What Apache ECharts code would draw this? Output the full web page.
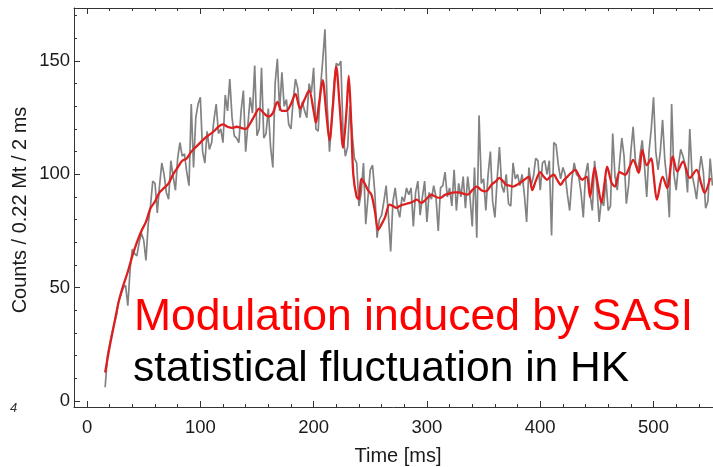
<!DOCTYPE html>
<html>
<head>
<meta charset="utf-8">
<script src="https://cdn.jsdelivr.net/npm/echarts@6/dist/echarts.min.js"></script>
<style>
  html, body { margin: 0; padding: 0; background: #fff; }
  #chart { width: 713px; height: 467px; }
</style>
</head>
<body>
<div id="chart"></div>
<script>
// ---- data ----
const xTickLabels = [0, 100, 200, 300, 400, 500];
const xMinorTicks = [20, 40, 60, 80, 120, 140, 160, 180, 220, 240, 260, 280, 320, 340, 360, 380, 420, 440, 460, 480, 520, 540];
const yTickLabels = [0, 50, 100, 150];
const yMinorTicks = [10, 20, 30, 40, 60, 70, 80, 90, 110, 120, 130, 140, 160, 170];

// observed counts per 2 ms bin, first bin at 16 ms
const grayStart = 16;
const grayBin = 2;
const grayCounts = [
  6, 20, 25, 30, 34, 38, 44, 47, 50, 51,
  42, 58, 67, 65, 64, 70, 74, 71, 62, 78,
  86, 97, 96, 83, 95, 105, 100, 92, 89, 106,
  99, 93, 107, 114, 108, 109, 101, 95, 131, 103,
  125, 131, 134, 110, 105, 119, 111, 114, 124, 131,
  118, 120, 114, 135, 128, 142, 125, 117, 116, 114,
  128, 137, 110, 122, 134, 127, 148, 117, 120, 147,
  116, 118, 129, 112, 103, 140, 151, 128, 145, 130,
  133, 122, 120, 133, 142, 138, 125, 132, 128, 125,
  140, 136, 147, 120, 119, 138, 150, 164, 130, 110,
  124, 140, 149, 148, 150, 118, 108, 112, 130, 118,
  107, 105, 86, 92, 105, 78, 90, 102, 104, 92,
  72, 80, 82, 88, 95, 82, 66, 88, 94, 85,
  81, 90, 88, 94, 91, 94, 77, 92, 97, 82,
  90, 97, 79, 92, 89, 95, 90, 75, 94, 95,
  101, 90, 94, 86, 102, 84, 96, 90, 99, 85,
  99, 90, 77, 103, 72, 126, 96, 98, 84, 100,
  110, 88, 81, 98, 112, 95, 92, 100, 87, 86,
  105, 98, 100, 95, 100, 91, 79, 103, 95, 99,
  107, 106, 93, 105, 106, 100, 106, 73, 114, 113,
  104, 98, 103, 100, 91, 84, 98, 105, 100, 99,
  92, 81, 100, 105, 91, 84, 106, 95, 79, 89,
  86, 98, 84, 86, 118, 99, 93, 105, 116, 108,
  87, 95, 110, 121, 106, 101, 108, 115, 104, 90,
  110, 120, 134, 110, 102, 110, 124, 106, 97, 81,
  131, 100, 93, 104, 111, 108, 104, 92, 120, 100,
  95, 89, 100, 108, 101, 85, 88, 107, 95
];

// SASI-modulated model curve
const redTimes = [16, 20, 24, 28, 32, 36, 40, 44, 48, 52, 56, 60, 64, 68, 72, 76, 80, 84, 88, 92,
  96, 100, 104, 108, 112, 116, 120, 124, 128, 132, 136, 140, 144, 148, 152, 156, 160, 164, 168, 172,
  176, 180, 184, 188, 192, 196, 200, 202, 205, 208, 211, 214, 217, 220, 223, 226, 229, 231, 233, 235,
  238, 240, 242, 245, 248, 251, 254, 257, 260, 263, 267, 270, 273, 276, 279, 282, 285, 288, 291, 295,
  299, 304, 308, 312, 316, 320, 324, 328, 332, 336, 340, 344, 348, 352, 357, 361, 364, 367, 370, 373,
  376, 380, 384, 387, 390, 393, 396, 400, 403, 406, 409, 412, 415, 418, 421, 424, 427, 431, 434, 437,
  441, 444, 448, 451, 454, 457, 459, 463, 466, 470, 475, 479, 482, 487, 490, 494, 498, 500, 503, 508,
  512, 517, 521, 526, 532, 538, 542, 545, 550];
const redCounts = [12.5, 24, 34, 44, 51, 57, 64, 70, 75, 79, 85, 88, 92, 94, 96, 100, 103, 106, 107, 110,
  112, 114, 116, 117.5, 119, 121, 122, 121, 120.5, 121, 120.5, 120, 122.5, 126, 129, 127, 125.5, 127, 132, 128,
  128, 131, 135.5, 129, 133, 137, 128, 122.7, 132, 141.6, 128, 115, 130, 147.5, 130, 111.7, 128, 143.4, 125, 100,
  90, 89, 98, 96, 93, 91, 84, 75.5, 78, 81, 86.6, 86, 85.2, 86, 86.6, 87, 87.4, 88, 88.8, 87.4,
  88.8, 91, 90, 89.6, 91, 91.5, 92, 92, 91.5, 91, 93, 94.6, 93, 92.5, 95.4, 97, 98.4, 97, 95.4, 95,
  94.6, 95.5, 96.8, 98, 99, 93, 97, 101, 99, 97.6, 99, 99.8, 97.5, 95.4, 97.5, 99, 100.5, 102, 99.5, 97.6,
  99, 90, 102.9, 95, 87.4, 97, 103.4, 96.2, 94.6, 101, 99.8, 103.4, 106.4, 100.6, 110.8, 104, 107, 100, 88.8, 99,
  94, 107.8, 101.2, 105.6, 98.4, 102, 96, 91.8, 98.4];

const xTitle = 'Time [ms]';
const yTitle = 'Counts / 0.22 Mt / 2 ms';
const noteRed = 'Modulation induced by SASI';
const noteBlack = 'statistical fluctuation in HK';

// ---- chart ----
const grayData = grayCounts.map((v, i) => [grayStart + i * grayBin, v]);
const redData = redTimes.map((t, i) => [t, redCounts[i]]);

const FONT = '"Liberation Sans", Arial, Helvetica, sans-serif';
const XMIN = -11.5, XMAX = 552.5, YMIN = -2.7, YMAX = 173.4;
const frame = '#333';

function xAx(pos, values, len, showLine, showLabel) {
  return {
    type: 'value', min: XMIN, max: XMAX, position: pos,
    axisLine: { show: showLine, onZero: false, lineStyle: { color: frame, width: 1 } },
    axisTick: { show: true, inside: true, length: len, customValues: values, lineStyle: { color: frame, width: 1 } },
    axisLabel: showLabel ? { show: true, customValues: values, fontSize: 18.5, color: '#1a1a1a', margin: 11, fontFamily: FONT } : { show: false },
    splitLine: { show: false }
  };
}
function yAx(values, len, showLine, showLabel) {
  return {
    type: 'value', min: YMIN, max: YMAX, position: 'left',
    axisLine: { show: showLine, onZero: false, lineStyle: { color: frame, width: 1 } },
    axisTick: { show: true, inside: true, length: len, customValues: values, lineStyle: { color: frame, width: 1 } },
    axisLabel: showLabel ? { show: true, customValues: values, fontSize: 18.5, color: '#1a1a1a', margin: 4, fontFamily: FONT } : { show: false },
    splitLine: { show: false }
  };
}

const chart = echarts.init(document.getElementById('chart'), null, { renderer: 'canvas' });
chart.setOption({
  animation: false,
  backgroundColor: '#fff',
  grid: { left: 74, top: 8, width: 639, height: 399 },
  xAxis: [
    xAx('bottom', xTickLabels, 6, true, true),
    xAx('bottom', xMinorTicks, 3, false, false),
    xAx('top', xTickLabels, 6, true, false),
    xAx('top', xMinorTicks, 3, false, false)
  ],
  yAxis: [
    yAx(yTickLabels, 6, true, true),
    yAx(yMinorTicks, 3, false, false)
  ],
  series: [
    { type: 'line', data: grayData, xAxisIndex: 0, yAxisIndex: 0, showSymbol: false,
      lineStyle: { color: '#828282', width: 1.7 }, z: 2 },
    { type: 'line', data: redData, xAxisIndex: 0, yAxisIndex: 0, showSymbol: false, smooth: 0.3,
      lineStyle: { color: '#dc2020', width: 2.3 }, z: 3 }
  ],
  graphic: [
    { type: 'text', x: 398, y: 456, style: { text: xTitle, font: '20px ' + FONT, fill: '#1a1a1a', align: 'center', verticalAlign: 'middle' } },
    { type: 'text', x: 20, y: 210, rotation: Math.PI / 2, style: { text: yTitle, font: '20px ' + FONT, fill: '#1a1a1a', align: 'center', verticalAlign: 'middle' } },
    { type: 'text', x: 134, y: 318, z: 10, style: { text: noteRed, font: '44.5px ' + FONT, fill: '#ff0000', align: 'left', verticalAlign: 'middle' } },
    { type: 'text', x: 133, y: 369, z: 10, style: { text: noteBlack, font: '42.5px ' + FONT, fill: '#000', align: 'left', verticalAlign: 'middle' } },
    { type: 'text', x: 10, y: 408, style: { text: '4', font: 'italic 13px ' + FONT, fill: '#333', align: 'left', verticalAlign: 'middle' } }
  ]
});
</script>
</body>
</html>
